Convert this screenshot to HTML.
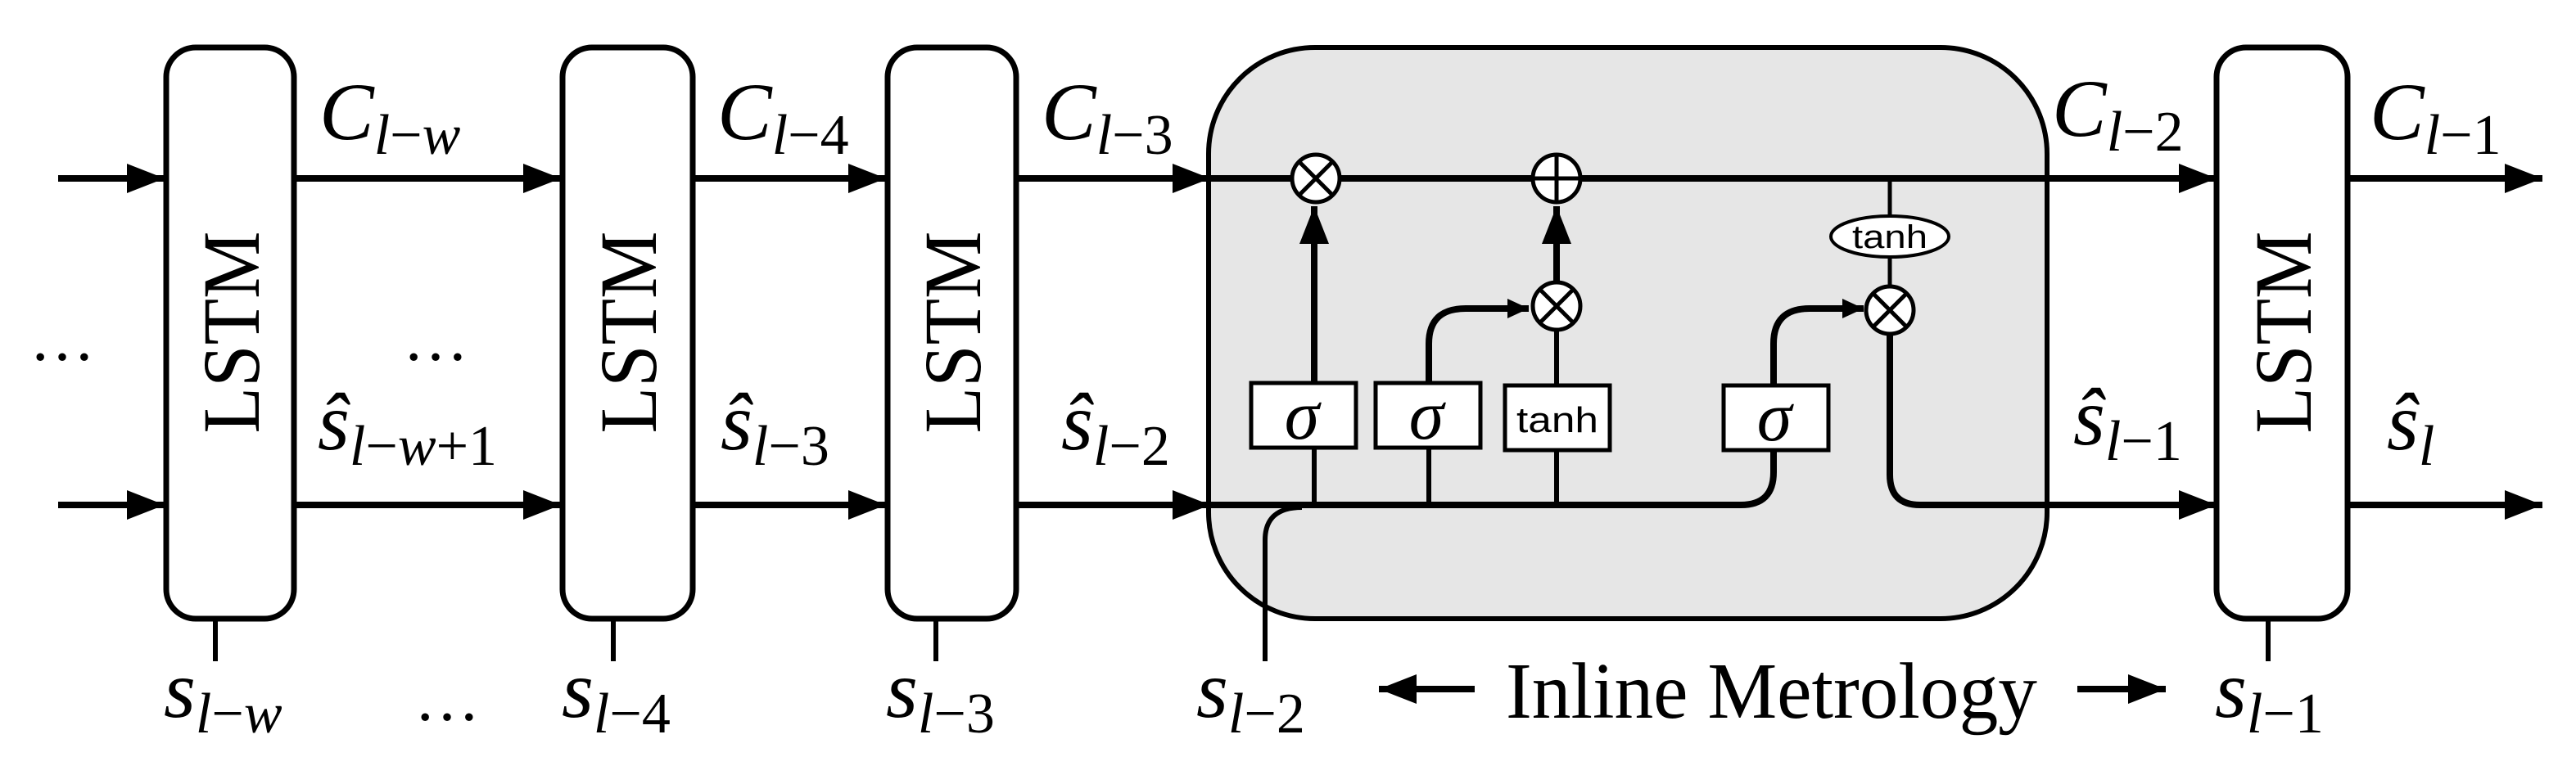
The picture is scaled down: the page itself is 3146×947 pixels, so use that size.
<!DOCTYPE html>
<html><head><meta charset="utf-8"><style>
html,body{margin:0;padding:0;background:#fff;}
svg{display:block;}
.m{font-family:"Liberation Serif",serif;font-style:italic;}
.u{font-style:normal;}
.L{font-family:"Liberation Serif",serif;font-size:100px;}
.sf{font-family:"Liberation Sans","DejaVu Sans",sans-serif;}
</style></head><body>
<svg width="3146" height="947" viewBox="0 0 3146 947" xmlns="http://www.w3.org/2000/svg">
<defs>
<marker id="a" markerUnits="userSpaceOnUse" markerWidth="50" markerHeight="40" refX="46" refY="18" orient="auto">
<path d="M0,0 L46,18 L0,36 Z" fill="#000"/></marker>
<marker id="b" markerUnits="userSpaceOnUse" markerWidth="30" markerHeight="30" refX="26" refY="12" orient="auto">
<path d="M0,0 L26,12 L0,24 Z" fill="#000"/></marker>
</defs>
<g stroke="#000" fill="none" stroke-width="8">
<rect x="1476" y="58" width="1024" height="698" rx="130" ry="130" fill="#e6e6e6" stroke-width="6"/>
<line x1="71" y1="218" x2="201" y2="218" marker-end="url(#a)"/>
<line x1="71" y1="617" x2="201" y2="617" marker-end="url(#a)"/>
<line x1="359" y1="218" x2="685" y2="218" marker-end="url(#a)"/>
<line x1="848" y1="218" x2="1082" y2="218" marker-end="url(#a)"/>
<line x1="1241" y1="218" x2="1478" y2="218" marker-end="url(#a)"/>
<line x1="1478" y1="218" x2="2707" y2="218" marker-end="url(#a)"/>
<line x1="2867" y1="218" x2="3105" y2="218" marker-end="url(#a)"/>
<line x1="359" y1="617" x2="685" y2="617" marker-end="url(#a)"/>
<line x1="848" y1="617" x2="1082" y2="617" marker-end="url(#a)"/>
<line x1="1241" y1="617" x2="1478" y2="617" marker-end="url(#a)"/>
<path d="M1478,617 H2126 Q2166,617 2166,577 V549"/>
<line x1="2867" y1="617" x2="3105" y2="617" marker-end="url(#a)"/>
<path d="M1545,808 V660 Q1545,620 1590,620" stroke-width="6"/>
<line x1="1605" y1="617" x2="1605" y2="547" stroke-width="6"/>
<line x1="1605" y1="468" x2="1605" y2="252" marker-end="url(#a)"/>
<line x1="1745" y1="617" x2="1745" y2="547" stroke-width="6"/>
<path d="M1745,468 V420 Q1745,377 1790,377 H1867" marker-end="url(#b)"/>
<line x1="1901" y1="617" x2="1901" y2="550" stroke-width="6"/>
<line x1="1901" y1="471" x2="1901" y2="404" stroke-width="6"/>
<line x1="1901" y1="344" x2="1901" y2="252" marker-end="url(#a)"/>
<path d="M2166,471 V420 Q2166,377 2210,377 H2276" marker-end="url(#b)"/>
<line x1="2308" y1="218" x2="2308" y2="265" stroke-width="5"/>
<line x1="2308" y1="313" x2="2308" y2="349" stroke-width="5"/>
<path d="M2308,409 V580 Q2308,617 2345,617 H2707" marker-end="url(#a)"/>
<line x1="263" y1="756" x2="263" y2="808" stroke-width="6"/>
<line x1="749" y1="756" x2="749" y2="808" stroke-width="6"/>
<line x1="1143" y1="756" x2="1143" y2="808" stroke-width="6"/>
<line x1="2770" y1="756" x2="2770" y2="808" stroke-width="6"/>
<rect x="203" y="58" width="156" height="698" rx="36" fill="#fff" stroke-width="7"/>
<rect x="687" y="58" width="159" height="698" rx="36" fill="#fff" stroke-width="7"/>
<rect x="1084" y="58" width="157" height="698" rx="36" fill="#fff" stroke-width="7"/>
<rect x="2707" y="58" width="160" height="698" rx="36" fill="#fff" stroke-width="7"/>
<rect x="1528" y="468" width="128" height="79" fill="#fff" stroke-width="5"/>
<rect x="1680" y="468" width="128" height="79" fill="#fff" stroke-width="5"/>
<rect x="1838" y="471" width="128" height="79" fill="#fff" stroke-width="5"/>
<rect x="2105" y="471" width="128" height="79" fill="#fff" stroke-width="5"/>
<ellipse cx="2308" cy="289" rx="72" ry="25" fill="#fff" stroke-width="4"/>
<g stroke-width="5">
<circle cx="1607" cy="218" r="29" fill="#fff"/>
<path d="M1587,198 L1627,238 M1627,198 L1587,238"/>
<circle cx="1901" cy="218" r="29" fill="#fff"/>
<path d="M1901,189 V247 M1872,218 H1930"/>
<circle cx="1901" cy="374" r="29" fill="#fff"/>
<path d="M1881,354 L1921,394 M1921,354 L1881,394"/>
<circle cx="2308" cy="379" r="29" fill="#fff"/>
<path d="M2288,359 L2328,399 M2328,359 L2288,399"/>
</g>
<line x1="1801" y1="842" x2="1684" y2="842" marker-end="url(#a)"/>
<line x1="2537" y1="842" x2="2645" y2="842" marker-end="url(#a)"/>
</g>
<g class="L" text-anchor="middle">
<text transform="translate(316,406) rotate(-90)" textLength="247" lengthAdjust="spacingAndGlyphs">LSTM</text>
<text transform="translate(801,406) rotate(-90)" textLength="247" lengthAdjust="spacingAndGlyphs">LSTM</text>
<text transform="translate(1197,406) rotate(-90)" textLength="247" lengthAdjust="spacingAndGlyphs">LSTM</text>
<text transform="translate(2822,406) rotate(-90)" textLength="247" lengthAdjust="spacingAndGlyphs">LSTM</text>
</g>
<g class="m" font-size="86" text-anchor="middle">
<text x="1590" y="536">σ</text>
<text x="1742" y="536">σ</text>
<text x="2167" y="538">σ</text>
</g>
<g class="sf" text-anchor="middle">
<text x="1902" y="528" font-size="44" textLength="100" lengthAdjust="spacingAndGlyphs">tanh</text>
<text x="2308" y="303" font-size="40" textLength="92" lengthAdjust="spacingAndGlyphs">tanh</text>
</g>
<g class="m" font-size="100">
<text x="390" y="170">C<tspan font-size="70" dy="18">l<tspan class="u">−</tspan>w</tspan></text>
<text x="876" y="170">C<tspan font-size="70" dy="18">l<tspan class="u">−4</tspan></tspan></text>
<text x="1272" y="170">C<tspan font-size="70" dy="18">l<tspan class="u">−3</tspan></tspan></text>
<text x="2506" y="166">C<tspan font-size="70" dy="18">l<tspan class="u">−2</tspan></tspan></text>
<text x="2894" y="170">C<tspan font-size="70" dy="18">l<tspan class="u">−1</tspan></tspan></text>
<text x="388" y="549">ŝ<tspan font-size="70" dy="19">l<tspan class="u">−</tspan>w<tspan class="u">+1</tspan></tspan></text>
<text x="880" y="549">ŝ<tspan font-size="70" dy="19">l<tspan class="u">−3</tspan></tspan></text>
<text x="1296" y="549">ŝ<tspan font-size="70" dy="19">l<tspan class="u">−2</tspan></tspan></text>
<text x="2532" y="543">ŝ<tspan font-size="70" dy="19">l<tspan class="u">−1</tspan></tspan></text>
<text x="2915" y="549">ŝ<tspan font-size="70" dy="19">l</tspan></text>
<text x="200" y="876">s<tspan font-size="70" dy="19">l<tspan class="u">−</tspan>w</tspan></text>
<text x="686" y="876">s<tspan font-size="70" dy="19">l<tspan class="u">−4</tspan></tspan></text>
<text x="1082" y="876">s<tspan font-size="70" dy="19">l<tspan class="u">−3</tspan></tspan></text>
<text x="1461" y="876">s<tspan font-size="70" dy="19">l<tspan class="u">−2</tspan></tspan></text>
<text x="2705" y="876">s<tspan font-size="70" dy="19">l<tspan class="u">−1</tspan></tspan></text>
</g>
<g font-family="Liberation Serif,serif" font-size="80">
<text x="36" y="440">…</text>
<text x="492" y="440">…</text>
<text x="506" y="880">…</text>
</g>
<text x="1839" y="877" font-family="Liberation Serif,serif" font-size="97" textLength="649" lengthAdjust="spacingAndGlyphs">Inline Metrology</text>
</svg>
</body></html>
